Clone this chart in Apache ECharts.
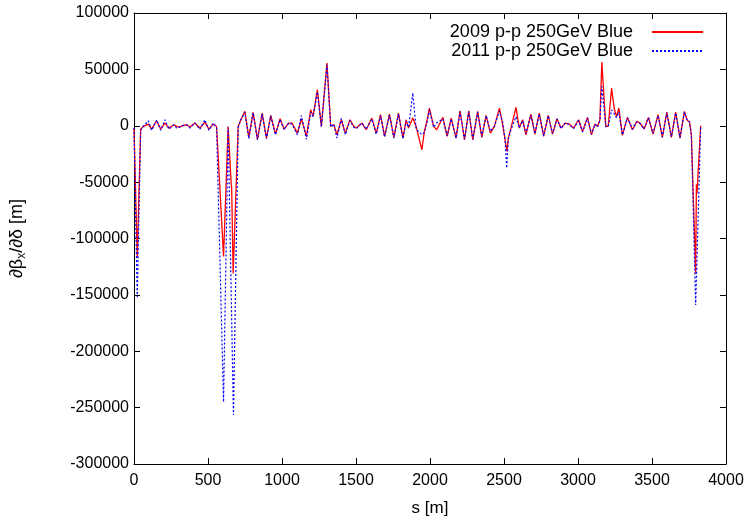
<!DOCTYPE html>
<html>
<head>
<meta charset="utf-8">
<script src="https://cdn.jsdelivr.net/npm/echarts@6/dist/echarts.min.js"></script>
<style>
html,body{margin:0;padding:0;background:#fff;}
#chart{width:752px;height:527px;}
</style>
</head>
<body>
<div id="chart"></div>
<script>
// ---- data ----
var seriesNames = ['2009 p-p 250GeV Blue', '2011 p-p 250GeV Blue'];
var xTicks = [0, 500, 1000, 1500, 2000, 2500, 3000, 3500, 4000];
var yTicks = [100000, 50000, 0, -50000, -100000, -150000, -200000, -250000, -300000];

// [s (m), dBeta_x/dDelta (m)]
var blue2009 = [
 [0,-2000],[22,-117000],[45,-3000],[63,-600],[97,1480],[119,-2960],[153,4440],[180,-2960],
 [209,2370],[236,-2070],[270,890],[288,-590],[306,-1180],[333,300],[355,890],[378,-1180],
 [411,2370],[445,-2070],[479,3260],[506,-2960],[535,1480],[558,-590],[569,-590],[605,-116000],
 [636,-600],[657,-52000],[660,-55000],[670,-131000],[704,-600],[722,5300],[749,12730],[776,-10360],
 [805,11840],[834,-11840],[866,11250],[895,-10950],[924,9180],[956,-7400],[987,6220],[1014,-2960],
 [1045,2370],[1068,2370],[1104,-6510],[1131,6220],[1165,-9470],[1194,14210],[1210,8290],[1239,31970],
 [1266,-590],[1304,55650],[1329,-590],[1351,890],[1371,-7990],[1401,5330],[1428,-6510],[1459,5330],
 [1486,-590],[1502,-2070],[1540,2370],[1569,-3550],[1607,6810],[1637,-6510],[1666,9770],[1693,-9470],
 [1726,10360],[1756,-10360],[1787,11250],[1817,-10950],[1839,5330],[1855,-2070],[1884,6810],[1906,-590],
 [1945,-21300],[1962,-5030],[1981,5330],[1996,15690],[2025,-590],[2045,-3550],[2087,7400],[2116,-9470],
 [2143,6810],[2176,-10950],[2203,13320],[2233,-12430],[2262,13320],[2289,-12430],[2322,12730],[2350,-10360],
 [2379,9180],[2408,-6510],[2435,-590],[2469,15690],[2491,890],[2507,-12430],[2520,-22790],[2529,-10950],
 [2547,-2070],[2581,16280],[2603,-2070],[2626,5330],[2648,-7990],[2682,10360],[2709,-7400],[2738,11250],
 [2768,-9470],[2799,9180],[2828,-7400],[2858,6220],[2885,-2070],[2914,2370],[2941,1480],[2970,-2070],
 [3004,5330],[3031,-5030],[3064,7400],[3091,-7990],[3114,1480],[3132,-590],[3148,5330],[3161,56540],
 [3188,-590],[3204,-590],[3227,33450],[3244,15690],[3260,8290],[3276,15690],[3300,-8580],[3334,7400],
 [3368,-3550],[3397,3850],[3419,2370],[3447,-2660],[3476,7400],[3507,-7400],[3541,9770],[3570,-10360],
 [3600,12140],[3631,-10360],[3660,12140],[3689,-10950],[3719,12730],[3739,4440],[3753,3850],[3766,-7990],
 [3795,-131000],[3800,-52000],[3804,-60000],[3829,0]
];
var blue2011 = [
 [0,-2000],[22,-152000],[45,-4000],[63,-600],[97,4400],[119,-4100],[153,5300],[180,-4100],
 [209,5300],[236,-3000],[270,900],[288,-2000],[306,-1200],[333,300],[355,890],[378,-2000],
 [411,2400],[445,-3000],[479,5300],[506,-4100],[535,2400],[558,-2000],[569,-1000],[605,-245000],
 [636,-1500],[672,-256600],[704,-1500],[722,5300],[749,12000],[776,-11500],[805,11500],[834,-12500],
 [866,10500],[895,-11500],[924,8500],[956,-8000],[987,5500],[1014,-3500],[1045,2400],[1068,1500],
 [1104,-8000],[1131,9000],[1165,-12000],[1194,12000],[1210,8000],[1239,30000],[1266,-1000],[1304,54000],
 [1329,-1000],[1351,1500],[1371,-10950],[1401,6500],[1428,-8000],[1459,4500],[1486,-1500],[1502,-2500],
 [1540,2400],[1569,-3000],[1607,6000],[1637,-7500],[1666,9000],[1693,-10000],[1726,9500],[1756,-11000],
 [1787,10500],[1817,-11500],[1839,4000],[1855,-1500],[1884,29000],[1906,-3000],[1945,-8000],[1962,-6000],
 [1981,4000],[1996,14000],[2025,-1500],[2045,2400],[2087,6000],[2116,-9000],[2143,6000],[2176,-11000],
 [2203,12500],[2233,-12000],[2262,12500],[2289,-12000],[2322,12000],[2350,-9500],[2379,9000],[2408,-5000],
 [2435,-500],[2469,13000],[2491,3000],[2507,-12000],[2518,-37600],[2529,-12000],[2547,-3500],[2581,8000],
 [2603,-2000],[2626,4500],[2648,-7000],[2682,9500],[2709,-7000],[2738,10500],[2768,-9000],[2799,9000],
 [2828,-7000],[2858,6000],[2885,-2500],[2914,2400],[2941,1000],[2970,-2500],[3004,4500],[3031,-5500],
 [3064,7000],[3091,-7500],[3114,1500],[3132,-1000],[3148,4500],[3161,34900],[3188,-1000],[3204,-500],
 [3227,14000],[3244,11000],[3260,7000],[3276,12000],[3300,-8000],[3334,7000],[3368,-3000],[3397,3500],
 [3419,2000],[3447,-3000],[3476,7000],[3507,-7000],[3541,9000],[3570,-10000],[3600,11500],[3631,-10000],
 [3660,11500],[3689,-10500],[3719,12000],[3739,4500],[3753,3500],[3766,-8000],[3795,-159000],[3829,0]
];

// ---- chart ----
var FONT = "'Liberation Sans', Arial, sans-serif";
var xMin = xTicks[0], xMax = xTicks[xTicks.length-1], xInt = xTicks[1]-xTicks[0];
var yMin = yTicks[yTicks.length-1], yMax = yTicks[0], yInt = yTicks[0]-yTicks[1];

function axisCommon(showLabel){
  return {
    axisLine:{show:true,onZero:false,lineStyle:{color:'#000',width:1}},
    axisTick:{show:true,inside:true,length:6,lineStyle:{color:'#000',width:1}},
    splitLine:{show:false},
    axisLabel:{show:showLabel,color:'#000',fontSize:16,fontFamily:FONT,
      formatter:function(v){return String(v);}}
  };
}

var chart = echarts.init(document.getElementById('chart'), null, {renderer:'canvas'});
var xBottom = Object.assign(axisCommon(true), {
  type:'value', min:xMin, max:xMax, interval:xInt, position:'bottom',
  name:'s [m]', nameLocation:'middle', nameGap:36,
  nameTextStyle:{color:'#000',fontSize:17,fontFamily:FONT}
});
xBottom.axisLabel.margin = 9;
var xTop = Object.assign(axisCommon(false), {type:'value', min:xMin, max:xMax, interval:xInt, position:'top'});
var yLeft = Object.assign(axisCommon(true), {
  type:'value', min:yMin, max:yMax, interval:yInt, position:'left',
  name:'∂β{sub|x}/∂δ [m]', nameLocation:'middle', nameRotate:90, nameGap:106,
  nameTextStyle:{color:'#000',fontSize:18,fontFamily:FONT,
    rich:{sub:{fontSize:12,fontFamily:FONT,color:'#000',padding:[10,0,0,0]}}}
});
yLeft.axisLabel.margin = 5;
var yRight = Object.assign(axisCommon(false), {type:'value', min:yMin, max:yMax, interval:yInt, position:'right'});

chart.setOption({
  backgroundColor:'#fff',
  animation:false,
  grid:{left:134, right:26, top:13, bottom:63, containLabel:false},
  legend:{
    right:43, top:18, orient:'vertical', align:'right', itemGap:1,
    itemWidth:51, itemHeight:18,
    itemStyle:{opacity:0},
    textStyle:{color:'#000',fontSize:18,fontFamily:FONT,padding:[0,14,0,0]},
    data:seriesNames
  },
  xAxis:[xBottom, xTop],
  yAxis:[yLeft, yRight],
  series:[
    {name:seriesNames[0], type:'line', data:blue2009, symbol:'none', xAxisIndex:0, yAxisIndex:0,
     lineStyle:{color:'#ff0000', width:1.3}, itemStyle:{color:'#ff0000'}},
    {name:seriesNames[1], type:'line', data:blue2011, symbol:'none', xAxisIndex:0, yAxisIndex:0,
     lineStyle:{color:'#0000ff', width:1.2, type:[2,2]}, itemStyle:{color:'#0000ff'}}
  ]
});
</script>
</body>
</html>
